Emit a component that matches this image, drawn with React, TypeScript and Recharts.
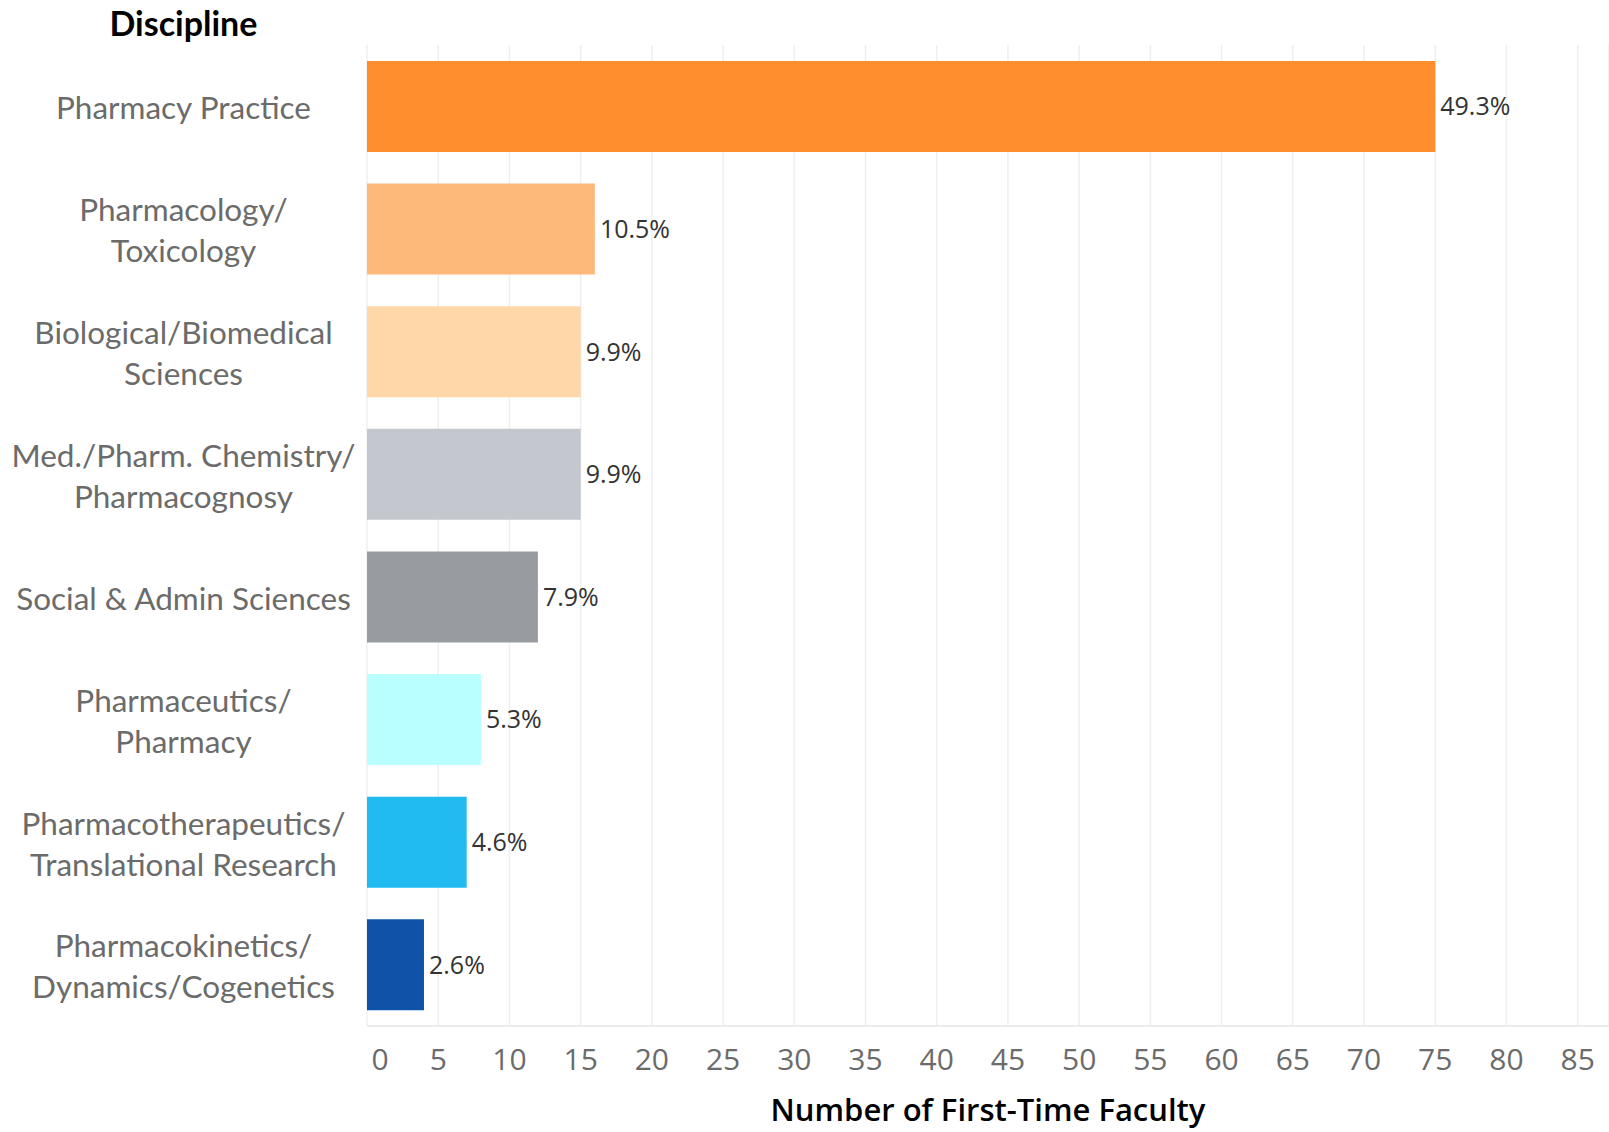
import React from 'react';
import { BarChart, Bar, XAxis, YAxis, CartesianGrid, Cell, LabelList } from 'recharts';

// Disciplines (line breaks as in the original labels)
const disciplines = [
  'Pharmacy Practice',
  'Pharmacology/\nToxicology',
  'Biological/Biomedical\nSciences',
  'Med./Pharm. Chemistry/\nPharmacognosy',
  'Social & Admin Sciences',
  'Pharmaceutics/\nPharmacy',
  'Pharmacotherapeutics/\nTranslational Research',
  'Pharmacokinetics/\nDynamics/Cogenetics',
];

// Number of first-time faculty
const counts = [75, 16, 15, 15, 12, 8, 7, 4];

const barColors = [
  '#FF8F2E',
  '#FDB97A',
  '#FFD7A9',
  '#C4C7CE',
  '#989B9F',
  '#BAFFFF',
  '#21BBF2',
  '#0E53A7',
];

const xTicks = [0, 5, 10, 15, 20, 25, 30, 35, 40, 45, 50, 55, 60, 65, 70, 75, 80, 85];

const total = counts.reduce((s, v) => s + v, 0);

const data = disciplines.map((name, i) => ({
  name,
  value: counts[i],
  pct: ((counts[i] / total) * 100).toFixed(1) + '%',
}));

const Y_AXIS_WIDTH = 367;

function CategoryTick({ y, payload }: any) {
  const lines = String(payload.value).split('\n');
  const lineGap = 41;
  const start = -((lines.length - 1) * lineGap) / 2;
  return (
    <g>
      {lines.map((line, i) => (
        <text
          key={i}
          x={Y_AXIS_WIDTH / 2}
          y={y + start + i * lineGap}
          dy={13}
          textAnchor="middle"
          fill="#6b6b6b"
          fontFamily="Lato"
          fontSize={31.5}
        >
          {line}
        </text>
      ))}
    </g>
  );
}

function ValueTick({ x, y, payload }: any) {
  // first tick is nudged right so it is not clipped at the axis edge
  const shift = payload.value === 0 ? 13 : 0;
  return (
    <text
      x={x + shift}
      y={y}
      dy={44}
      textAnchor="middle"
      fill="#6b6b6b"
      fontFamily="Open Sans"
      fontSize={30}
    >
      {payload.value}
    </text>
  );
}

export default function App() {
  return (
    <div
      style={{
        position: 'absolute',
        left: 0,
        top: 0,
        width: 1609,
        height: 1132,
        background: '#fff',
        overflow: 'hidden',
      }}
    >
      <div
        style={{
          position: 'absolute',
          left: 0,
          width: Y_AXIS_WIDTH,
          top: 2,
          textAlign: 'center',
          fontFamily: 'Lato',
          fontWeight: 700,
          fontSize: 34,
          color: '#000',
        }}
      >
        Discipline
      </div>
      <BarChart
        width={1609}
        height={1132}
        data={data}
        layout="vertical"
        margin={{ top: 45, right: 0, bottom: 0, left: 0 }}
        barCategoryGap="13%"
      >
        <CartesianGrid horizontal={false} stroke="#EFEFEF" strokeWidth={1.5} />
        <XAxis
          type="number"
          domain={[0, 87.2]}
          ticks={xTicks}
          interval={0}
          height={106}
          axisLine={{ stroke: '#EBEBEB', strokeWidth: 2 }}
          tickLine={false}
          tickSize={0}
          tickMargin={0}
          tick={<ValueTick />}
        />
        <YAxis
          type="category"
          dataKey="name"
          width={Y_AXIS_WIDTH}
          axisLine={false}
          tickLine={false}
          tickSize={0}
          tickMargin={0}
          interval={0}
          tick={<CategoryTick />}
        />
        <Bar dataKey="value" isAnimationActive={false}>
          {data.map((d, i) => (
            <Cell key={d.name} fill={barColors[i]} />
          ))}
          <LabelList
            dataKey="pct"
            position="right"
            offset={5}
            fill="#333"
            fontFamily="Open Sans"
            fontSize={25}
          />
        </Bar>
      </BarChart>
      <div
        style={{
          position: 'absolute',
          left: Y_AXIS_WIDTH,
          right: 0,
          top: 1094,
          lineHeight: '31px',
          textAlign: 'center',
          fontFamily: 'Open Sans',
          fontWeight: 600,
          fontSize: 31,
          color: '#000',
        }}
      >
        Number of First-Time Faculty
      </div>
    </div>
  );
}
